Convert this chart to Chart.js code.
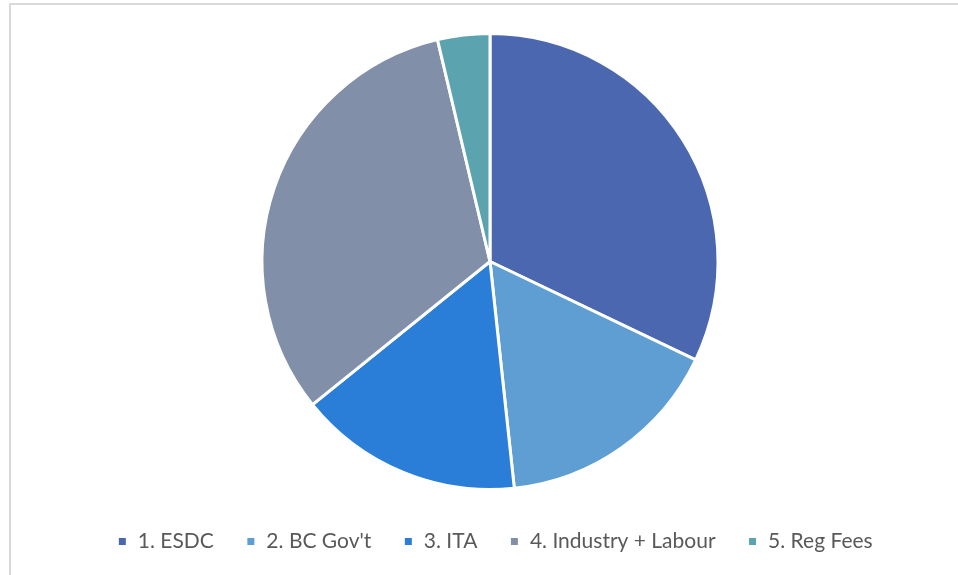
<!DOCTYPE html>
<html>
<head>
<meta charset="utf-8">
<script src="https://cdn.jsdelivr.net/npm/chart.js@4.4.0/dist/chart.umd.min.js"></script>
<style>
  html, body { margin: 0; padding: 0; background: #ffffff; }
  #wrap { position: relative; width: 958px; height: 575px; overflow: hidden; }
  #frame { position: absolute; left: 9px; top: 3px; width: 960px; height: 580px; border-left: 2px solid #d9d9d9; border-top: 2px solid #d9d9d9; box-sizing: border-box; }
  #c { position: absolute; left: 0; top: 0; }
</style>
</head>
<body>
<div id="wrap">
  <div id="frame"></div>
  <canvas id="c" width="958" height="575"></canvas>
</div>
<script>
const categories = ["1. ESDC", "2. BC Gov't", "3. ITA", "4. Industry + Labour", "5. Reg Fees"];
const values = [32.1, 16.2, 15.9, 32.1, 3.7];
const colors = ["#4A67B0", "#5F9ED2", "#2A7ED8", "#8190A8", "#5BA3AE"];

const legendShift = {
  id: 'legendShift',
  afterLayout(chart) {
    if (chart.legend) {
      chart.legend.left += 5;
      chart.legend.right += 5;
    }
  }
};

new Chart(document.getElementById('c'), {
  type: 'pie',
  data: {
    labels: categories,
    datasets: [{
      data: values,
      backgroundColor: colors,
      borderColor: '#ffffff',
      borderWidth: 3,
      radius: 228
    }]
  },
  options: {
    responsive: false,
    animation: false,
    layout: { padding: { left: 22, right: 0, top: 24, bottom: 13 } },
    plugins: {
      tooltip: { enabled: false },
      legend: {
        position: 'bottom',
        labels: {
          boxWidth: 10,
          boxHeight: 10,
          padding: 32,
          color: '#595959',
          font: { family: 'Lato', size: 21 }
        }
      }
    }
  },
  plugins: [legendShift]
});
</script>
</body>
</html>
